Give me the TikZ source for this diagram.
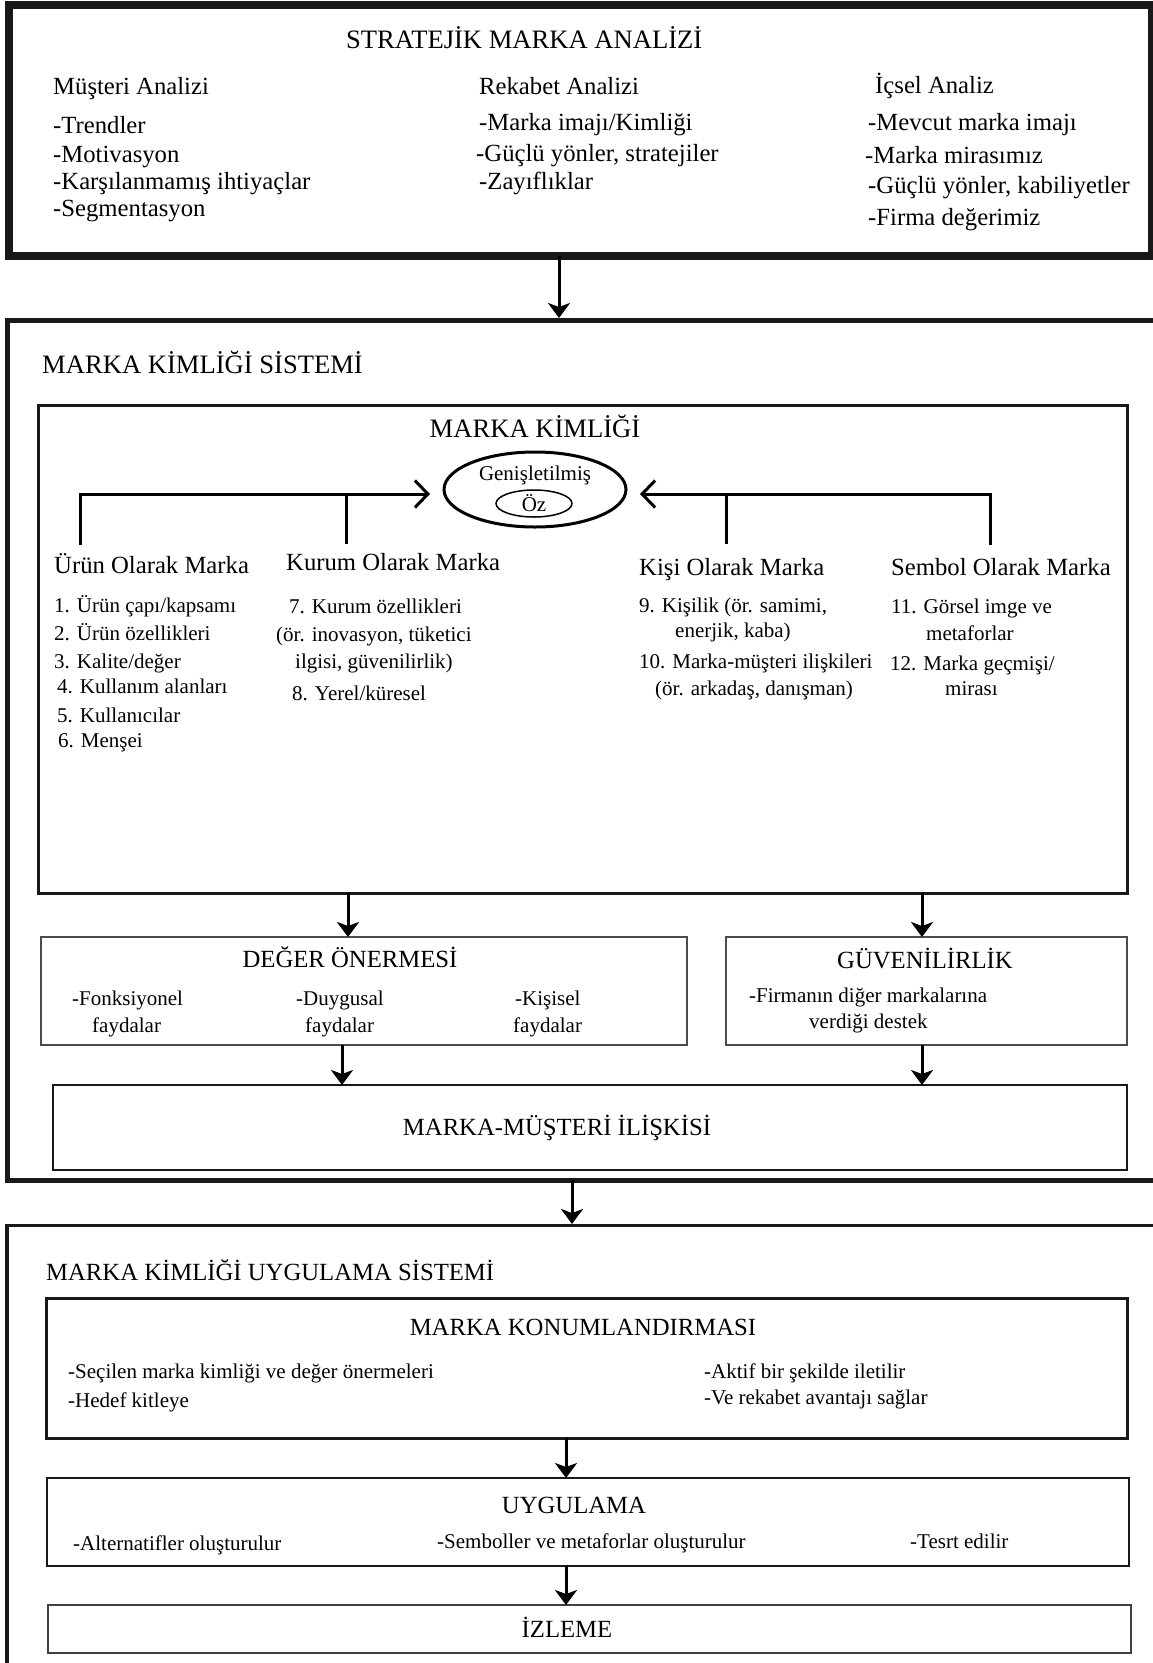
\documentclass[tikz,border=0pt]{standalone}
\usepackage{fontspec}
\setmainfont{Liberation Serif}
\usetikzlibrary{arrows.meta,fit,shapes.geometric}

\begin{document}
\begin{tikzpicture}[x=1pt,y=-1pt,
  frame/.style={draw=black!90, inner sep=0pt, outer sep=0pt, line join=miter},
  ttl/.style={anchor=base west, inner sep=0pt, font=\fontsize{26.6}{30}\selectfont},
  hd/.style={anchor=base west, inner sep=0pt, font=\fontsize{24.7}{28}\selectfont},
  itm/.style={anchor=base west, inner sep=0pt, font=\fontsize{21}{25}\selectfont},
  mid/.style={anchor=base},
  arr/.style={line width=3pt, -{Stealth[length=15pt,width=22pt,inset=4pt]}},
  feed/.style={line width=3pt, line join=miter, -{Straight Barb[length=13pt,width=27pt]}},
  link/.style={line width=3pt},
]
\useasboundingbox[fill=white] (0,0) rectangle (1153,1663);

% ---------- strategic brand analysis ----------
\node[frame, line width=8pt, fit={(9,4.5) (1151.5,256)}] (sba) {};
\node[ttl] (t0) at (346,48) {STRATEJİK MARKA ANALİZİ};
\node[hd] (h1) at (53,94) {Müşteri Analizi};
\node[hd] (h2) at (479,94) {Rekabet Analizi};
\node[hd] (h3) at (875,93) {İçsel Analiz};
\node[hd] (a1) at (53,133) {-Trendler};
\node[hd] (a2) at (53,162) {-Motivasyon};
\node[hd] (a3) at (53,189) {-Karşılanmamış ihtiyaçlar};
\node[hd] (a4) at (53,216) {-Segmentasyon};
\node[hd] (b1) at (479,130) {-Marka imajı/Kimliği};
\node[hd] (b2) at (476,161) {-Güçlü yönler, stratejiler};
\node[hd] (b3) at (479,189) {-Zayıflıklar};
\node[hd] (d1) at (868,130) {-Mevcut marka imajı};
\node[hd] (d2) at (865,163) {-Marka mirasımız};
\node[hd] (d3) at (868,193) {-Güçlü yönler, kabiliyetler};
\node[hd] (d4) at (868,225) {-Firma değerimiz};

% ---------- brand identity system ----------
\node[frame, line width=5pt, fit={(7,320) (1160,1180)}] (mks) {};
\node[ttl] (t1) at (42,373) {MARKA KİMLİĞİ SİSTEMİ};
\node[frame, line width=3pt, fit={(38,405) (1127.5,893)}] (mk) {};
\node[ttl, anchor=base] (t2) at (535,437) {MARKA KİMLİĞİ};

\node[ellipse, draw, line width=3pt, minimum width=182pt, minimum height=75pt,
      inner sep=0pt] (ext) at (535,489.5) {};
\node[itm, mid] (gen) at (535,480) {Genişletilmiş};
\node[ellipse, draw, line width=1.5pt, minimum width=76pt, minimum height=27pt,
      inner sep=0pt, font=\fontsize{21}{25}\selectfont] (oz) at (534,503.5) {Öz};

\node[hd] (urun) at (54,573) {Ürün Olarak Marka};
\node[hd] (kurum) at (286,570) {Kurum Olarak Marka};
\node[hd] (kisi) at (639,575) {Kişi Olarak Marka};
\node[hd] (sembol) at (891,575) {Sembol Olarak Marka};

% feeders into the core ellipse
\coordinate (uL) at (80,545);
\coordinate (kL) at (346,544);
\coordinate (tipL) at (430,494);
\coordinate (kR) at (726,544);
\coordinate (sR) at (990,545);
\coordinate (tipR) at (640,494);
\draw[feed] (uL) |- (tipL);
\draw[link] (kL) -- (kL |- tipL);
\draw[feed] (sR) |- (tipR);
\draw[link] (kR) -- (kR |- tipR);

\node[itm] (u1) at (54,612) {1. Ürün çapı/kapsamı};
\node[itm] (u2) at (54,640) {2. Ürün özellikleri};
\node[itm] (u3) at (54,668) {3. Kalite/değer};
\node[itm] (u4) at (57,693) {4. Kullanım alanları};
\node[itm] (u5) at (57,722) {5. Kullanıcılar};
\node[itm] (u6) at (58,747) {6. Menşei};

\node[itm] (k1) at (289,613) {7. Kurum özellikleri};
\node[itm] (k2) at (276,641) {(ör. inovasyon, tüketici};
\node[itm] (k3) at (295,668) {ilgisi, güvenilirlik)};
\node[itm] (k4) at (292,700) {8. Yerel/küresel};

\node[itm] (p1) at (639,612) {9. Kişilik (ör. samimi,};
\node[itm] (p2) at (675,637) {enerjik, kaba)};
\node[itm] (p3) at (639,668) {10. Marka-müşteri ilişkileri};
\node[itm] (p4) at (655,695) {(ör. arkadaş, danışman)};

\node[itm] (s1) at (891,613) {11. Görsel imge ve};
\node[itm] (s2) at (926,640) {metaforlar};
\node[itm] (s3) at (890,670) {12. Marka geçmişi/};
\node[itm] (s4) at (945,695) {mirası};

% value proposition and credibility
\node[frame, draw=black!70, line width=1.8pt, fit={(41,937) (687,1045)}] (deger) {};
\node[hd, mid] (t3) at (350,967) {DEĞER ÖNERMESİ};
\node[itm] (v1) at (72,1005) {-Fonksiyonel};
\node[itm] (v2) at (92,1032) {faydalar};
\node[itm] (v3) at (296,1005) {-Duygusal};
\node[itm] (v4) at (305,1032) {faydalar};
\node[itm] (v5) at (515,1005) {-Kişisel};
\node[itm] (v6) at (513,1032) {faydalar};

\node[frame, draw=black!70, line width=1.8pt, fit={(726,937) (1127,1045)}] (guv) {};
\node[hd, mid] (t4) at (925,968) {GÜVENİLİRLİK};
\node[itm] (g1) at (749,1002) {-Firmanın diğer markalarına};
\node[itm] (g2) at (809,1028) {verdiği destek};

\node[frame, line width=2.2pt, fit={(53,1085) (1127,1170)}] (mmi) {};
\node[hd, mid] (t9) at (557,1135) {MARKA-MÜŞTERİ İLİŞKİSİ};

% ---------- implementation system ----------
\node[frame, line width=3.5pt, fit={(7,1225.5) (1165,1675)}] (mkus) {};
\node[hd] (t5) at (46,1280) {MARKA KİMLİĞİ UYGULAMA SİSTEMİ};

\node[frame, line width=3pt, fit={(46,1298) (1127,1438)}] (konum) {};
\node[hd, mid] (t6) at (583,1335) {MARKA KONUMLANDIRMASI};
\node[itm] (m1) at (68,1378) {-Seçilen marka kimliği ve değer önermeleri};
\node[itm] (m2) at (68,1407) {-Hedef kitleye};
\node[itm] (m3) at (704,1378) {-Aktif bir şekilde iletilir};
\node[itm] (m4) at (704,1404) {-Ve rekabet avantajı sağlar};

\node[frame, line width=2.5pt, fit={(47,1478) (1129,1566)}] (uyg) {};
\node[hd, mid] (t7) at (574,1513) {UYGULAMA};
\node[itm] (w1) at (73,1550) {-Alternatifler oluşturulur};
\node[itm] (w2) at (437,1548) {-Semboller ve metaforlar oluşturulur};
\node[itm] (w3) at (910,1548) {-Tesrt edilir};

\node[frame, draw=black!75, line width=2pt, fit={(48,1605) (1131,1653)}] (izl) {};
\node[hd, mid] (t8) at (567,1637) {İZLEME};

% ---------- flow arrows ----------
\coordinate (c1) at (559,0);
\coordinate (c2) at (348,0);
\coordinate (c3) at (922,0);
\coordinate (c4) at (342,0);
\coordinate (c6) at (572,0);
\coordinate (c7) at (566,0);
\draw[arr, shorten >=2pt] (sba.south -| c1) -- (mks.north -| c1);
\draw[arr] (mk.south -| c2) -- (deger.north -| c2);
\draw[arr] (mk.south -| c3) -- (guv.north -| c3);
\draw[arr] (deger.south -| c4) -- (mmi.north -| c4);
\draw[arr] (guv.south -| c3) -- (mmi.north -| c3);
\draw[arr, shorten >=1.5pt] (mks.south -| c6) -- (mkus.north -| c6);
\draw[arr] (konum.south -| c7) -- (uyg.north -| c7);
\draw[arr] (uyg.south -| c7) -- (izl.north -| c7);
\end{tikzpicture}
\end{document}
